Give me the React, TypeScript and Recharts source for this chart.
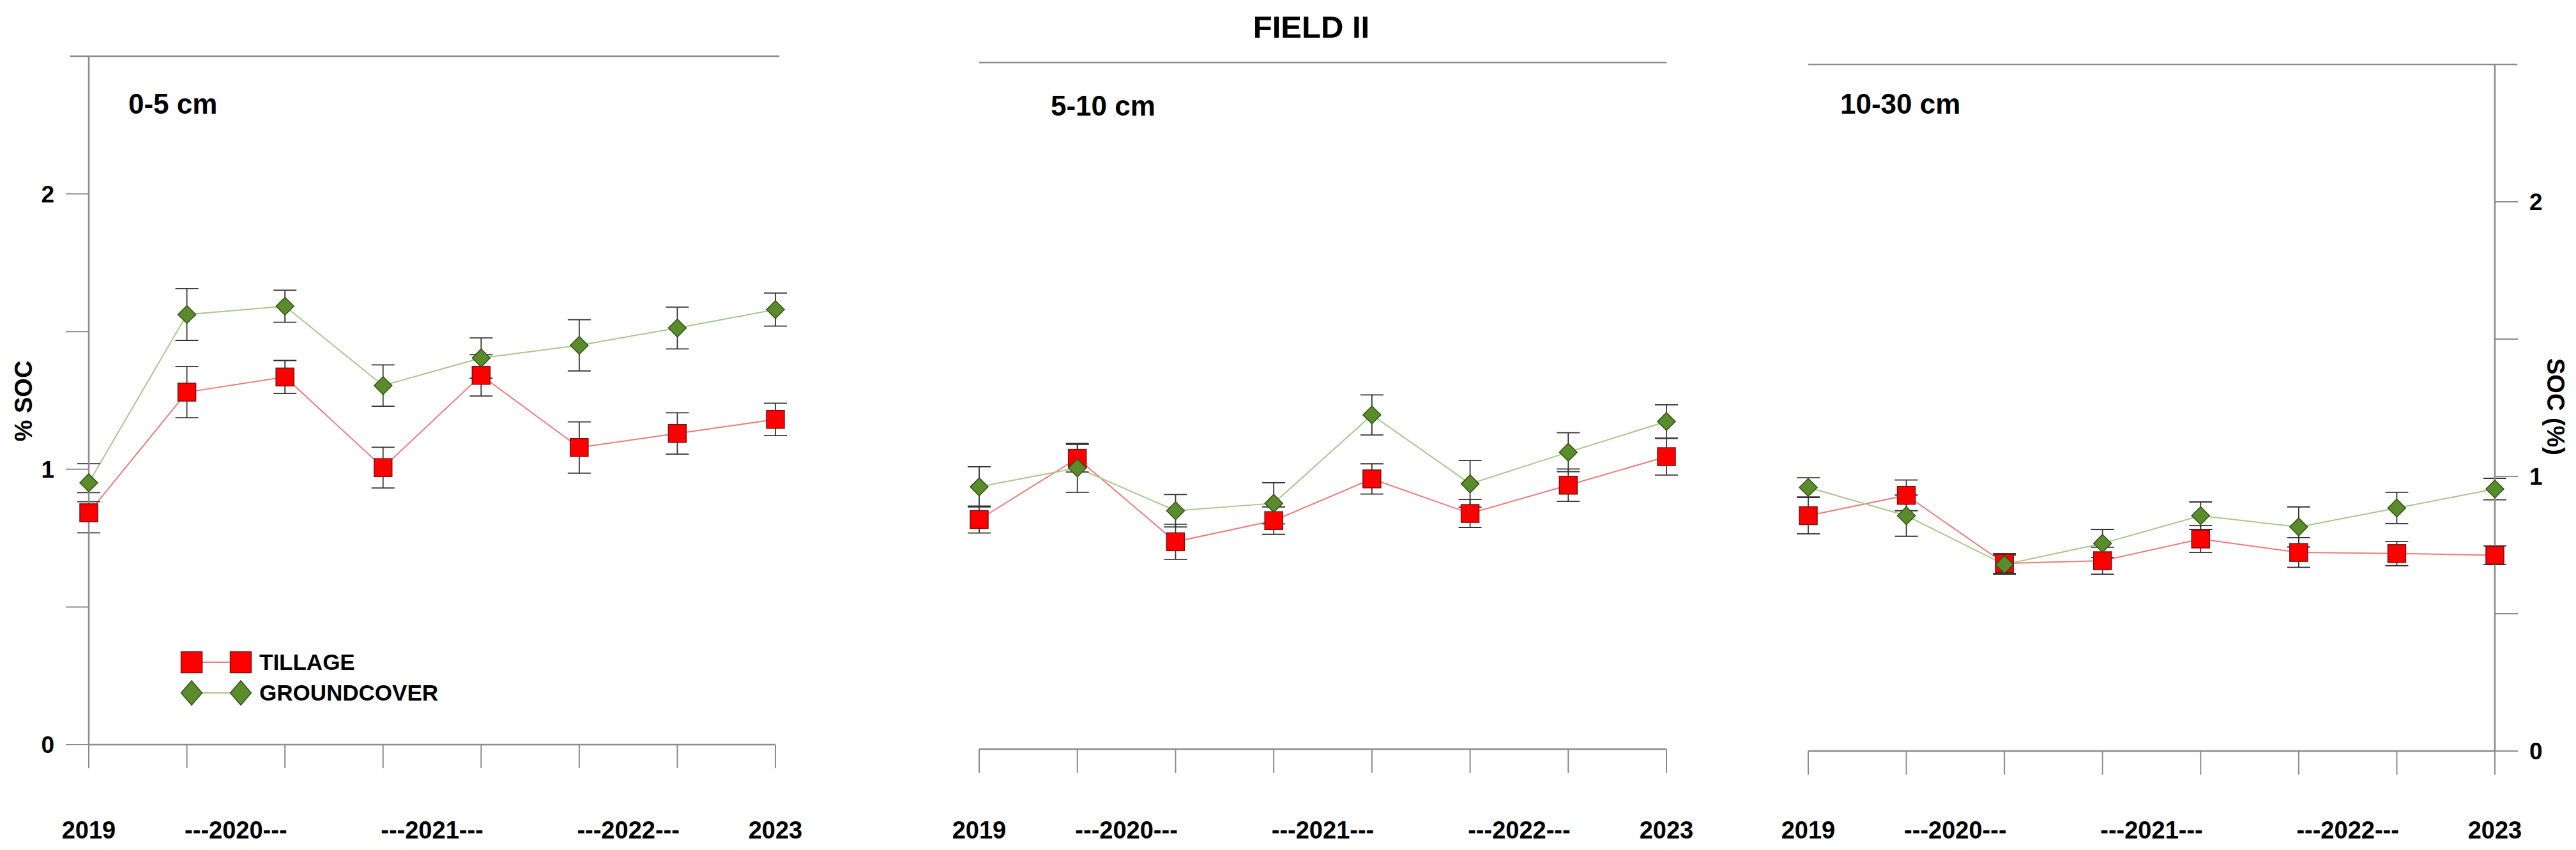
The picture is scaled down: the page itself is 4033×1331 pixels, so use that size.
import React from "react";
import { LineChart, Line, XAxis, YAxis, ErrorBar, ReferenceLine, Legend } from "recharts";

// sampling dates (8 per depth), labelled by year underneath
const samples = [0, 1, 2, 3, 4, 5, 6, 7];
const yearLabels = ["2019", "---2020---", "---2021---", "---2022---", "2023"];
const yearLabelAt = [0, 1.5, 3.5, 5.5, 7];
const socTicks = [0, 0.5, 1, 1.5, 2];
const legendOrder = ["TILLAGE", "GROUNDCOVER"];

// 0-5 cm
const tillage0to5 = [0.842, 1.28, 1.335, 1.006, 1.341, 1.079, 1.13, 1.181];
const tillage0to5Err = [0.073, 0.093, 0.06, 0.074, 0.075, 0.093, 0.075, 0.059];
const cover0to5 = [0.951, 1.562, 1.592, 1.304, 1.404, 1.45, 1.513, 1.58];
const cover0to5Err = [0.069, 0.094, 0.058, 0.075, 0.073, 0.093, 0.076, 0.06];

// 5-10 cm
const tillage5to10 = [0.836, 1.059, 0.755, 0.832, 0.984, 0.858, 0.961, 1.065];
const tillage5to10Err = [0.049, 0.05, 0.064, 0.05, 0.055, 0.051, 0.059, 0.067];
const cover5to10 = [0.955, 1.024, 0.868, 0.895, 1.217, 0.966, 1.081, 1.193];
const cover5to10Err = [0.073, 0.089, 0.059, 0.075, 0.073, 0.085, 0.071, 0.061];

// 10-30 cm
const tillage10to30 = [0.857, 0.931, 0.683, 0.693, 0.772, 0.723, 0.719, 0.713];
const tillage10to30Err = [0.066, 0.056, 0.036, 0.049, 0.049, 0.054, 0.044, 0.034];
const cover10to30 = [0.96, 0.857, 0.679, 0.756, 0.857, 0.816, 0.885, 0.954];
const cover10to30Err = [0.035, 0.075, 0.035, 0.051, 0.05, 0.073, 0.057, 0.039];

const FONT = "'Liberation Sans', Arial, sans-serif";
const AXIS = "#8c8c8c";
const xTicks = [...new Set([...samples, ...yearLabelAt])].sort((a, b) => a - b);

function rows(t: number[], te: number[], g: number[], ge: number[]) {
  return samples.map((s, i) => ({ s, tillage: t[i], tillageErr: te[i], cover: g[i], coverErr: ge[i] }));
}

function Square({ cx, cy, size = 28 }: any) {
  if (cx == null || cy == null) return null;
  return <rect x={cx - size / 2} y={cy - size / 2} width={size} height={size} fill="#ff0000" stroke="#7a1010" strokeWidth={1.5} />;
}

function Diamond({ cx, cy, w = 28, h = 28 }: any) {
  if (cx == null || cy == null) return null;
  const pts = `${cx},${cy - h / 2} ${cx + w / 2},${cy} ${cx},${cy + h / 2} ${cx - w / 2},${cy}`;
  return <polygon points={pts} fill="#5b8c2c" stroke="#2e5214" strokeWidth={1.5} />;
}

// tick marks at each sampling date, year labels in a row further down
function YearTick({ x, y, payload }: any) {
  const v = payload.value;
  const li = yearLabelAt.indexOf(v);
  return (
    <g>
      {Number.isInteger(v) && <line x1={x} y1={y} x2={x} y2={y + 37} stroke={AXIS} strokeWidth={2} />}
      {li >= 0 && (
        <text x={x} y={1313} textAnchor="middle" fontSize={38} fontWeight="bold" fontFamily={FONT} fill="#000">
          {yearLabels[li]}
        </text>
      )}
    </g>
  );
}

function LegendBox({ payload }: any) {
  const items = (payload || [])
    .filter((e: any) => legendOrder.includes(e.value))
    .sort((a: any, b: any) => legendOrder.indexOf(a.value) - legendOrder.indexOf(b.value));
  return (
    <div style={{ fontFamily: FONT }}>
      {items.map((e: any) => (
        <div key={e.value} style={{ display: "flex", alignItems: "center", height: 48 }}>
          <svg width={112} height={48}>
            <line x1={18} y1={24} x2={95} y2={24} stroke={e.color} strokeWidth={2} />
            {e.value === "TILLAGE" ? (
              <>
                <Square cx={18} cy={24} size={33} />
                <Square cx={95} cy={24} size={33} />
              </>
            ) : (
              <>
                <Diamond cx={18} cy={24} w={33} h={38} />
                <Diamond cx={95} cy={24} w={33} h={38} />
              </>
            )}
          </svg>
          <span style={{ fontSize: 35, fontWeight: "bold", marginLeft: 12 }}>{e.value}</span>
        </div>
      ))}
    </div>
  );
}

type PanelProps = {
  data: any[];
  left: number;
  width: number;
  margin: { top: number; right: number; left: number; bottom: number };
  xAxisHeight: number;
  yAxis: "left" | "right" | "none";
  yAxisWidth: number;
  topLine: [number, number];
  legend?: boolean;
};

function Panel({ data, left, width, margin, xAxisHeight, yAxis, yAxisWidth, topLine, legend }: PanelProps) {
  return (
    <div style={{ position: "absolute", left, top: 0 }}>
      <LineChart width={width} height={1331} data={data} margin={margin}>
        <XAxis
          dataKey="s"
          type="number"
          domain={[0, 7]}
          ticks={xTicks}
          interval={0}
          tickSize={0}
          tickMargin={0}
          tickLine={false}
          tick={<YearTick />}
          height={xAxisHeight}
          axisLine={{ stroke: AXIS, strokeWidth: 2.5 }}
        />
        <YAxis
          domain={[0, 2.5]}
          ticks={socTicks}
          interval={0}
          hide={yAxis === "none"}
          orientation={yAxis === "right" ? "right" : "left"}
          width={yAxisWidth}
          tickSize={36}
          tickMargin={18}
          tickFormatter={(v: number) => (Number.isInteger(v) ? String(v) : "")}
          tick={{ fontSize: 37, fontWeight: "bold", fill: "#000", fontFamily: FONT }}
          tickLine={{ stroke: AXIS, strokeWidth: 2 }}
          axisLine={{ stroke: AXIS, strokeWidth: 2.5 }}
        />
        <ReferenceLine
          segment={[{ x: topLine[0], y: 2.5 }, { x: topLine[1], y: 2.5 }]}
          ifOverflow="visible"
          stroke={AXIS}
          strokeWidth={2.5}
        />
        <Line
          dataKey="tillage"
          name="TILLAGE"
          stroke="#f07a7a"
          strokeWidth={2}
          dot={(p: any) => <Square key={`t${p.index}`} cx={p.cx} cy={p.cy} />}
          isAnimationActive={false}
        />
        <Line
          dataKey="cover"
          name="GROUNDCOVER"
          stroke="#a5c98a"
          strokeWidth={2}
          dot={(p: any) => <Diamond key={`g${p.index}`} cx={p.cx} cy={p.cy} />}
          isAnimationActive={false}
        />
        {/* error bars drawn last so they sit over the markers */}
        <Line dataKey="tillage" stroke="none" dot={false} legendType="none" isAnimationActive={false}>
          <ErrorBar dataKey="tillageErr" width={18} stroke="#333" strokeWidth={1.8} direction="y" isAnimationActive={false} />
        </Line>
        <Line dataKey="cover" stroke="none" dot={false} legendType="none" isAnimationActive={false}>
          <ErrorBar dataKey="coverErr" width={18} stroke="#333" strokeWidth={1.8} direction="y" isAnimationActive={false} />
        </Line>
        {legend && (
          <Legend
            layout="vertical"
            align="center"
            verticalAlign="middle"
            content={<LegendBox />}
            wrapperStyle={{ left: 282, top: 1013, width: 520 }}
          />
        )}
      </LineChart>
    </div>
  );
}

const textStyle: React.CSSProperties = {
  position: "absolute",
  fontFamily: FONT,
  fontWeight: "bold",
  color: "#000",
  whiteSpace: "nowrap",
  lineHeight: 1,
};

export default function App() {
  return (
    <div style={{ position: "absolute", left: 0, top: 0, width: 4033, height: 1331, background: "#fff" }}>
      <Panel
        data={rows(tillage0to5, tillage0to5Err, cover0to5, cover0to5Err)}
        left={0}
        width={1300}
        margin={{ top: 88, right: 86, left: 0, bottom: 0 }}
        xAxisHeight={165}
        yAxis="left"
        yAxisWidth={139}
        topLine={[-0.19, 7.04]}
        legend
      />
      <Panel
        data={rows(tillage5to10, tillage5to10Err, cover5to10, cover5to10Err)}
        left={1460}
        width={1250}
        margin={{ top: 98, right: 101, left: 73, bottom: 0 }}
        xAxisHeight={158}
        yAxis="none"
        yAxisWidth={0}
        topLine={[0, 7]}
      />
      <Panel
        data={rows(tillage10to30, tillage10to30Err, cover10to30, cover10to30Err)}
        left={2760}
        width={1273}
        margin={{ top: 101, right: 0, left: 71, bottom: 0 }}
        xAxisHeight={155}
        yAxis="right"
        yAxisWidth={127}
        topLine={[0, 7.23]}
      />

      <div style={{ ...textStyle, fontSize: 49, left: 2053, top: 42, transform: "translate(-50%, -50%)" }}>FIELD II</div>
      <div style={{ ...textStyle, fontSize: 44, left: 201, top: 163, transform: "translateY(-50%)" }}>0-5 cm</div>
      <div style={{ ...textStyle, fontSize: 44, left: 1645, top: 166, transform: "translateY(-50%)" }}>5-10 cm</div>
      <div style={{ ...textStyle, fontSize: 44, left: 2881, top: 163, transform: "translateY(-50%)" }}>10-30 cm</div>
      <div style={{ ...textStyle, fontSize: 38, left: 37, top: 628, transform: "translate(-50%, -50%) rotate(-90deg)" }}>% SOC</div>
      <div style={{ ...textStyle, fontSize: 38, left: 4001, top: 637, transform: "translate(-50%, -50%) rotate(90deg)" }}>SOC (%)</div>
    </div>
  );
}
